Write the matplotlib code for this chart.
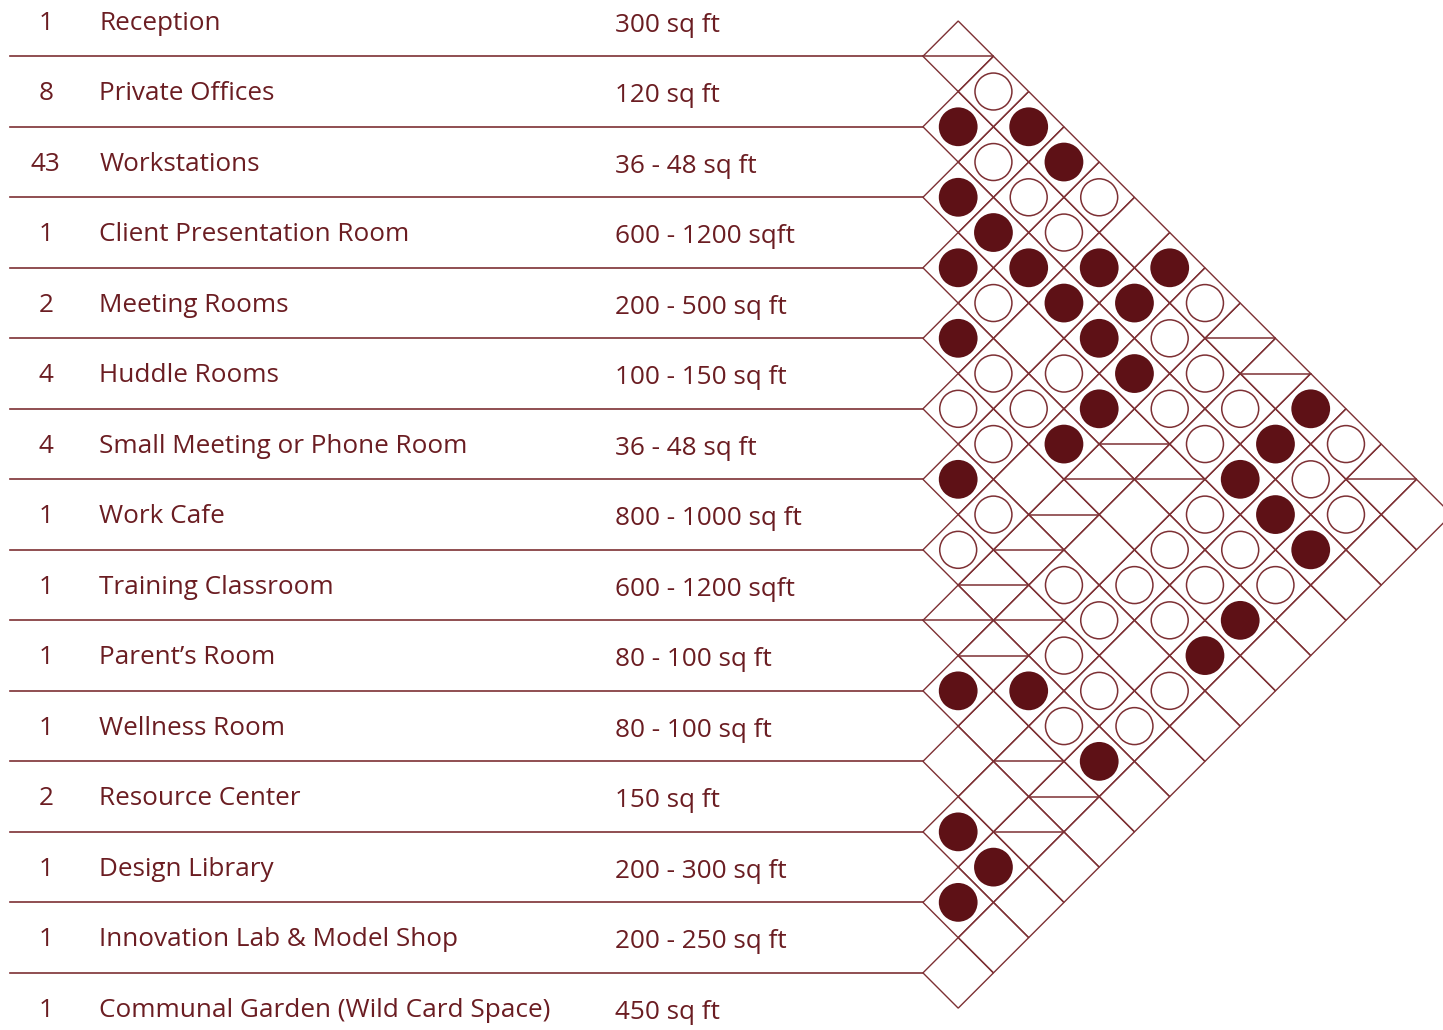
import matplotlib.pyplot as plt
from matplotlib.patches import Polygon, Circle

# space program
spaces = ["Reception", "Private Offices", "Workstations", "Client Presentation Room",
          "Meeting Rooms", "Huddle Rooms", "Small Meeting or Phone Room", "Work Cafe",
          "Training Classroom", "Parent\u2019s Room", "Wellness Room", "Resource Center",
          "Design Library", "Innovation Lab & Model Shop", "Communal Garden (Wild Card Space)"]
counts = ["1", "8", "43", "1", "2", "4", "4", "1", "1", "1", "1", "2", "1", "1", "1"]
areas = ["300 sq ft", "120 sq ft", "36 - 48 sq ft", "600 - 1200 sqft", "200 - 500 sq ft",
         "100 - 150 sq ft", "36 - 48 sq ft", "800 - 1000 sq ft", "600 - 1200 sqft",
         "80 - 100 sq ft", "80 - 100 sq ft", "150 sq ft", "200 - 300 sq ft",
         "200 - 250 sq ft", "450 sq ft"]

# adjacency pairs (row index i, row index j)
strong = [(1, 2), (0, 3), (0, 4), (2, 3), (2, 4), (3, 4), (2, 5), (1, 6), (0, 7), (2, 6),
          (1, 7), (4, 5), (2, 7), (2, 8), (3, 8), (0, 11), (4, 8), (1, 11), (6, 7), (2, 11),
          (2, 12), (2, 13), (4, 13), (5, 13), (9, 10), (8, 11), (8, 13), (11, 12), (11, 13),
          (12, 13)]
weak = [(0, 2), (1, 3), (1, 4), (0, 5), (1, 5), (3, 5), (0, 8), (1, 8), (4, 6), (3, 7),
        (1, 9), (5, 6), (4, 7), (2, 9), (1, 10), (5, 7), (2, 10), (0, 12), (1, 12), (6, 8),
        (3, 11), (1, 13), (7, 8), (4, 11), (3, 12), (6, 10), (5, 11), (4, 12), (3, 13),
        (6, 11), (5, 12), (7, 11), (7, 12), (6, 13), (8, 12), (7, 13)]
avoid = [(0, 1), (0, 9), (0, 10), (3, 9), (4, 9), (3, 10), (0, 13), (5, 9), (6, 9), (7, 9),
         (8, 9), (7, 10), (8, 10), (9, 12), (9, 13), (10, 13)]

dark = "#5e1116"
line_c = "#7d3034"
text_c = "#6b1d22"

plt.rcParams['font.family'] = ['Open Sans', 'DejaVu Sans']

fig = plt.figure(figsize=(14.43, 10.30), dpi=100)
ax = fig.add_axes([0, 0, 1, 1])
ax.set_xlim(-13.09, 7.376)
ax.set_ylim(14.31, -0.298)
ax.axis('off')

n = len(spaces)
fs = 18.8

# text columns
for r in range(n):
    ax.text(-12.44, r + 0.03, counts[r], ha='center', va='center', fontsize=fs, color=text_c)
    ax.text(-11.68, r + 0.03, spaces[r], ha='left', va='center', fontsize=fs, color=text_c)
    ax.text(-4.37, r + 0.06, areas[r], ha='left', va='center', fontsize=fs, color=text_c)

# separators
for r in range(n - 1):
    ax.plot([-12.95, 0], [r + 0.5, r + 0.5], color=line_c, lw=1.2)

# diamond grid
for i in range(n):
    for j in range(i + 1, n):
        cx = (j - i) * 0.5
        cy = (i + j) / 2
        pts = [(cx - 0.5, cy), (cx, cy - 0.5), (cx + 0.5, cy), (cx, cy + 0.5)]
        ax.add_patch(Polygon(pts, closed=True, fill=False, edgecolor=line_c, lw=1.0))

for i, j in strong:
    ax.add_patch(Circle(((j - i) * 0.5, (i + j) / 2), 0.275, facecolor=dark, edgecolor='none'))
for i, j in weak:
    ax.add_patch(Circle(((j - i) * 0.5, (i + j) / 2), 0.262, facecolor='white',
                        edgecolor=line_c, lw=1.1))
for i, j in avoid:
    cx = (j - i) * 0.5
    cy = (i + j) / 2
    ax.plot([cx - 0.5, cx + 0.5], [cy, cy], color=line_c, lw=1.1)

fig.savefig("out.png", dpi=100, facecolor='white')
